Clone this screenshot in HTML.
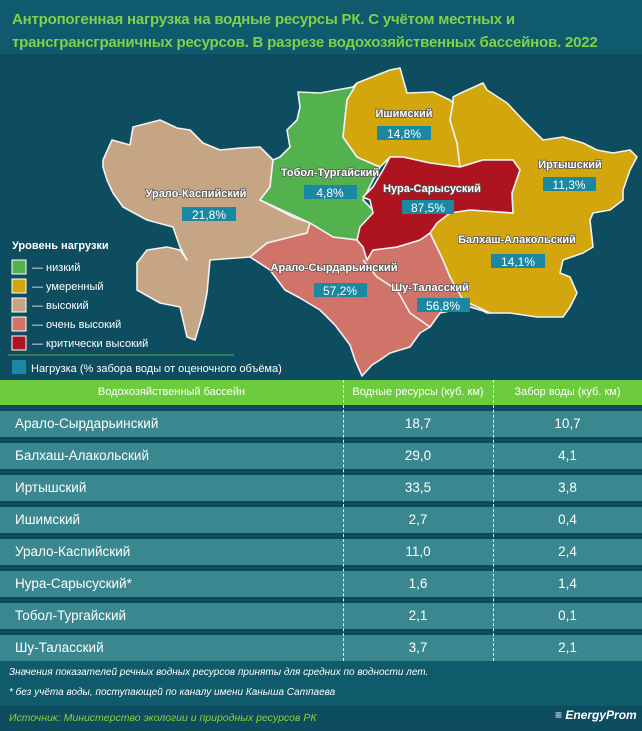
<!DOCTYPE html>
<html><head><meta charset="utf-8"><style>
body{margin:0;width:642px;height:731px;overflow:hidden;background:#0d4d5f;font-family:"Liberation Sans",sans-serif;position:relative}
.t{position:absolute;left:12px;top:8px;color:#7fd24a;font-weight:bold;font-size:15px;line-height:23px;letter-spacing:-0.2px}
.band{position:absolute;left:0;top:0;width:642px;height:54px;background:#105a6d}
.hdr{position:absolute;left:0;top:380px;width:642px;height:25px;background:#6ccc3e;color:#fff;font-size:11px}
.hdr div,.row div{position:absolute;top:0;text-align:center}
.row{position:absolute;left:0;width:642px;height:26px;background:#3a8790;color:#fff;font-size:13.5px}
.vl{position:absolute;top:380px;height:281px;border-left:1px dashed #e8f4f4}
.fn{position:absolute;left:9px;color:#fff;font-style:italic;font-size:10px}
</style></head><body>
<div class="band"></div>
<div class="t">Антропогенная нагрузка на водные ресурсы РК. С учётом местных и<br>трансгрансграничных ресурсов. В разрезе водохозяйственных бассейнов. 2022</div>
<svg style="position:absolute;left:0;top:0" width="642" height="380">
<g stroke="#f2f2f2" stroke-width="1.6" stroke-linejoin="round">
<polygon fill="#c6a585" points="103,160 112,140 130,145 133,127 160,120 177,128 190,130 203,143 220,150 240,148 260,147 273,160 270,187 260,200 293,217 310,223 307,233 267,243 250,257 210,260 207,293 203,313 195,340 187,337 180,307 160,303 137,290 137,263 147,250 167,247 180,250 187,260 180,247 173,227 147,220 123,207 113,193 107,180 103,167"/>
<polygon fill="#53b14e" points="298,92 320,93 353,87 357,83 347,100 343,137 357,157 380,167 373,180 363,200 373,210 373,227 357,240 333,237 310,223 260,200 270,187 273,160 280,157 290,147 287,130 297,120 300,107"/>
<polygon fill="#d2a60c" points="357,83 390,70 400,68 407,93 433,92 450,100 453,103 450,120 457,143 460,167 430,163 403,157 390,157 380,167 357,157 343,137 347,100"/>
<polygon fill="#d2a60c" points="453,97 463,92 483,83 487,90 507,103 523,120 543,140 563,137 583,143 597,150 613,153 630,150 637,157 630,170 623,190 623,200 610,210 593,213 590,220 593,247 583,253 563,260 560,273 570,277 577,293 570,307 563,317 537,317 510,313 487,313 463,300 450,277 443,260 430,233 437,223 450,213 470,210 513,213 512,193 520,170 513,160 483,160 460,167 457,143 450,120 453,103"/>
<polygon fill="#d0746a" points="250,257 267,243 307,233 310,223 333,237 357,240 363,247 367,260 373,250 397,247 420,240 430,233 443,260 450,277 463,300 490,313 470,307 440,313 430,327 420,333 410,347 400,350 390,353 380,360 372,365 362,376 355,360 350,345 335,325 320,310 300,298 285,290 270,270"/>
<polyline fill="none" points="363,260 377,277 397,290 410,313 430,327"/>
<polygon fill="#ad141f" points="390,157 403,157 430,163 460,167 483,160 513,160 520,170 512,193 513,213 470,210 450,213 437,223 430,233 420,240 397,247 373,250 367,260 363,247 357,240 360,227 373,213 370,200 363,197 373,187 383,170"/>
</g>
<g font-size="11" font-weight="bold" fill="#fff" text-anchor="middle" style="paint-order:stroke" stroke="#555" stroke-width="1.5">
<text x="404" y="117">Ишимский</text><text x="330" y="176">Тобол-Тургайский</text>
<text x="196" y="197">Урало-Каспийский</text><text x="432" y="192">Нура-Сарысуский</text>
<text x="570" y="168">Иртышский</text><text x="517" y="243">Балхаш-Алакольский</text>
<text x="334" y="271">Арало-Сырдарьинский</text><text x="430" y="291">Шу-Таласский</text>
</g>
<g fill="#1a88a2">
<rect x="377" y="126" width="54" height="14"/><rect x="304" y="185" width="53" height="14"/>
<rect x="182" y="207" width="54" height="14"/><rect x="402" y="200" width="52" height="14"/>
<rect x="543" y="177" width="53" height="14"/><rect x="491" y="254" width="54" height="14"/>
<rect x="314" y="283" width="53" height="14"/><rect x="417" y="298" width="53" height="14"/>
</g>
<g font-size="12" fill="#fff" text-anchor="middle">
<text x="404" y="138">14,8%</text><text x="330" y="197">4,8%</text><text x="209" y="219">21,8%</text>
<text x="428" y="212">87,5%</text><text x="569" y="189">11,3%</text><text x="518" y="266">14,1%</text>
<text x="340" y="295">57,2%</text><text x="443" y="310">56,8%</text>
</g>
<text x="12" y="249" font-size="11" font-weight="bold" fill="#fff">Уровень нагрузки</text>
<g stroke="#fff" stroke-width="1">
<rect x="12" y="260" width="14" height="14" fill="#53b14e"/><rect x="12" y="279" width="14" height="14" fill="#d2a60c"/>
<rect x="12" y="298" width="14" height="14" fill="#c6a585"/><rect x="12" y="317" width="14" height="14" fill="#d0746a"/>
<rect x="12" y="336" width="14" height="14" fill="#ad141f"/>
</g>
<g font-size="11" fill="#fff">
<text x="32" y="271">— низкий</text><text x="32" y="290">— умеренный</text><text x="32" y="309">— высокий</text>
<text x="32" y="328">— очень высокий</text><text x="32" y="347">— критически высокий</text>
<text x="31" y="372">Нагрузка (% забора воды от оценочного объёма)</text>
</g>
<line x1="8" y1="355" x2="234" y2="355" stroke="#5cb04a" stroke-width="1"/>
<rect x="12" y="360" width="14" height="14" fill="#1a88a2"/>
</svg>
<div class="hdr"><div style="left:0;width:343px;line-height:25px">Водохозяйственный бассейн</div><div style="left:343px;width:150px;line-height:25px">Водные ресурсы (куб. км)</div><div style="left:493px;width:149px;line-height:25px">Забор воды (куб. км)</div></div>
<div class="row" style="top:411px"><div style="left:15px;text-align:left;line-height:26px">Арало-Сырдарьинский</div><div style="left:343px;width:150px;line-height:26px">18,7</div><div style="left:493px;width:149px;line-height:26px">10,7</div></div>
<div class="row" style="top:443px"><div style="left:15px;text-align:left;line-height:26px">Балхаш-Алакольский</div><div style="left:343px;width:150px;line-height:26px">29,0</div><div style="left:493px;width:149px;line-height:26px">4,1</div></div>
<div class="row" style="top:475px"><div style="left:15px;text-align:left;line-height:26px">Иртышский</div><div style="left:343px;width:150px;line-height:26px">33,5</div><div style="left:493px;width:149px;line-height:26px">3,8</div></div>
<div class="row" style="top:507px"><div style="left:15px;text-align:left;line-height:26px">Ишимский</div><div style="left:343px;width:150px;line-height:26px">2,7</div><div style="left:493px;width:149px;line-height:26px">0,4</div></div>
<div class="row" style="top:539px"><div style="left:15px;text-align:left;line-height:26px">Урало-Каспийский</div><div style="left:343px;width:150px;line-height:26px">11,0</div><div style="left:493px;width:149px;line-height:26px">2,4</div></div>
<div class="row" style="top:571px"><div style="left:15px;text-align:left;line-height:26px">Нура-Сарысуский*</div><div style="left:343px;width:150px;line-height:26px">1,6</div><div style="left:493px;width:149px;line-height:26px">1,4</div></div>
<div class="row" style="top:603px"><div style="left:15px;text-align:left;line-height:26px">Тобол-Тургайский</div><div style="left:343px;width:150px;line-height:26px">2,1</div><div style="left:493px;width:149px;line-height:26px">0,1</div></div>
<div class="row" style="top:635px"><div style="left:15px;text-align:left;line-height:26px">Шу-Таласский</div><div style="left:343px;width:150px;line-height:26px">3,7</div><div style="left:493px;width:149px;line-height:26px">2,1</div></div>
<div class="vl" style="left:343px"></div><div class="vl" style="left:493px"></div>
<div style="position:absolute;left:0;top:661px;width:642px;height:45px;background:#0f5a6b"></div>
<div class="fn" style="top:667px">Значения показателей речных водных ресурсов приняты для средних по водности лет.</div>
<div class="fn" style="top:687px">* без учёта воды, поступающей по каналу имени Каныша Сатпаева</div>
<div class="fn" style="top:712px;color:#8fd13a;font-size:10.5px">Источник: Министерство экологии и природных ресурсов РК</div>
<div style="position:absolute;left:555px;top:708px;color:#fff;font-size:12px;font-weight:bold;font-style:italic">≡ EnergyProm</div>
</body></html>
